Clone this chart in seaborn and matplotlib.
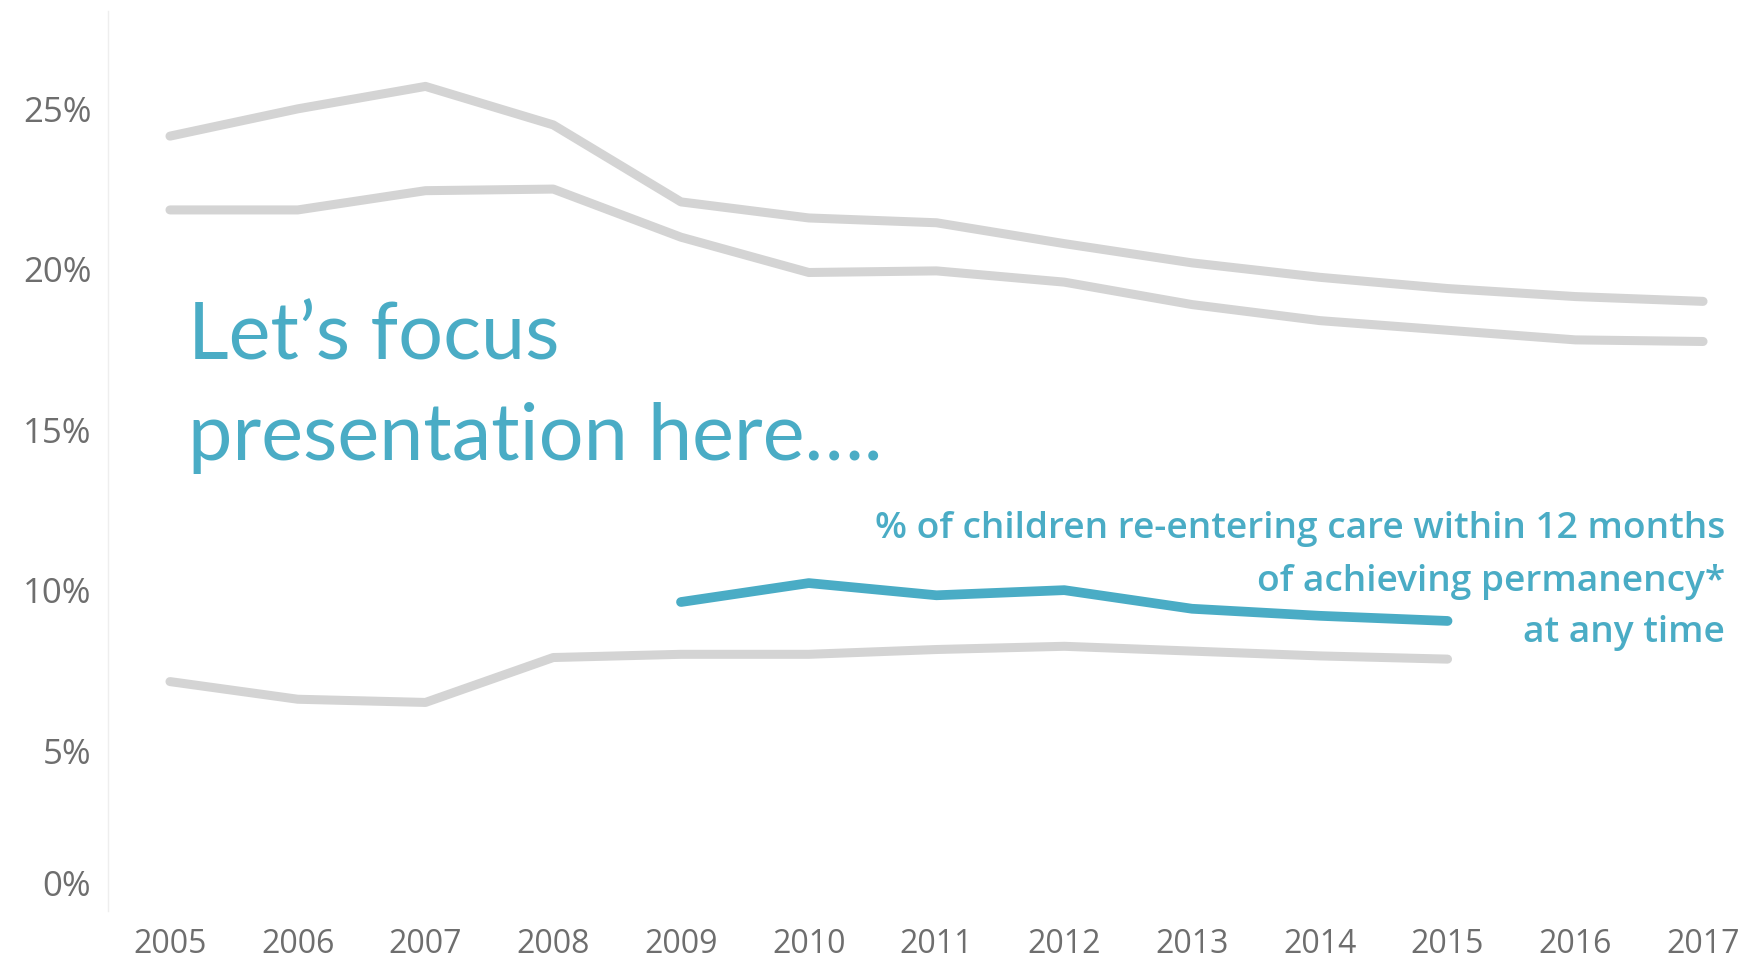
import numpy as np
import pandas as pd
import matplotlib
matplotlib.use("Agg")
import matplotlib.pyplot as plt
import seaborn as sns

years = list(range(2005, 2018))
upper = [24.15, 25.0, 25.7, 24.5, 22.1, 21.6, 21.45, 20.8, 20.2, 19.75, 19.4, 19.15, 19.0]
middle = [21.85, 21.85, 22.45, 22.5, 21.0, 19.9, 19.95, 19.6, 18.9, 18.4, 18.1, 17.8, 17.75]
lower_years = list(range(2005, 2016))
lower = [7.15, 6.6, 6.5, 7.9, 8.0, 8.0, 8.15, 8.25, 8.1, 7.95, 7.85]
focus_years = list(range(2009, 2016))
focus = [9.63, 10.22, 9.84, 10.0, 9.42, 9.2, 9.04]
ytick_vals = [0, 5, 10, 15, 20, 25]
note_lines = ["% of children re-entering care within 12 months",
              "of achieving permanency*",
              "at any time"]

GRAY = "#d4d4d4"
BLUE = "#4aacc5"
TICK = "#6e6e6e"

sns.set_style("white")
plt.rcParams["font.family"] = ["Open Sans", "DejaVu Sans"]

fig = plt.figure(figsize=(17.58, 9.58), dpi=100)
ax = fig.add_axes([108 / 1758, 47 / 958, 1650 / 1758, 900 / 958])

for xs, ys in [(years, upper), (years, middle), (lower_years, lower)]:
    sns.lineplot(x=xs, y=ys, ax=ax, color=GRAY, linewidth=6.5,
                 solid_capstyle="round", solid_joinstyle="round")
sns.lineplot(x=focus_years, y=focus, ax=ax, color=BLUE, linewidth=7,
             solid_capstyle="round", solid_joinstyle="round")

ax.set_xlim(2004.515, 2017.43)
ax.set_ylim(0, 28.05)
ax.set_xticks(years)
ax.set_xticklabels([str(y) for y in years])
ax.set_yticks(ytick_vals)
ax.set_yticklabels(["" if v == 0 else f"{v}%" for v in ytick_vals])
ax.tick_params(axis="x", length=0, pad=12, labelsize=23, labelcolor=TICK)
ax.tick_params(axis="y", length=11, width=1, color="#f0f0f0", pad=1,
               labelsize=25, labelcolor=TICK)
for s in ["top", "right", "bottom"]:
    ax.spines[s].set_visible(False)
ax.spines["left"].set_color("#eeeeee")
ax.spines["left"].set_linewidth(1)

# 0% label sits a bit above its tick, as in the original
ax.annotate("0%", xy=(0, 0), xycoords=("axes fraction", "data"),
            xytext=(-12, 17), textcoords="offset points", ha="right",
            va="center", fontsize=25, color=TICK)

ax.text(2005.14, 17.2, "Let\u2019s focus", fontsize=57, color=BLUE,
        ha="left", va="baseline", family=["Lato", "DejaVu Sans"])
ax.text(2005.14, 14.06, "presentation here\u2026.", fontsize=57, color=BLUE,
        ha="left", va="baseline", family=["Lato", "DejaVu Sans"])

for line, yb in zip(note_lines, [11.62, 9.98, 8.37]):
    ax.text(2017.17, yb, line, fontsize=26.7, color=BLUE, ha="right",
            va="baseline", fontweight="semibold",
            family=["Open Sans", "DejaVu Sans"])

plt.savefig("out.png", dpi=100)
